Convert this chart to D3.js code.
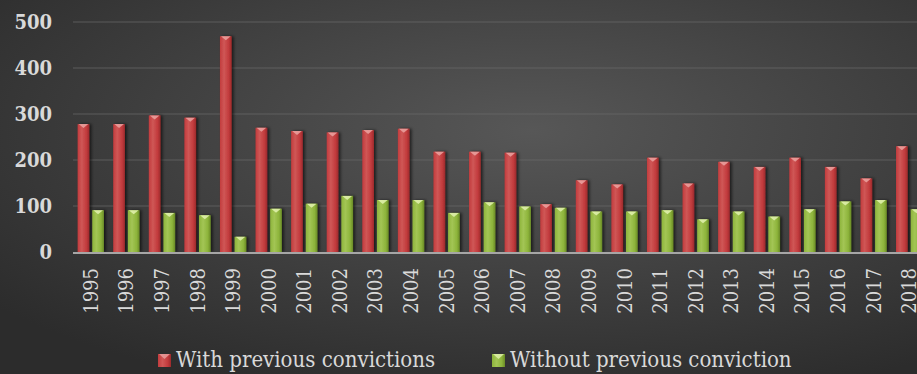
<!DOCTYPE html>
<html>
<head>
<meta charset="utf-8">
<script src="https://d3js.org/d3.v7.min.js"></script>
<style>
  body { margin: 0; background: #333; overflow: hidden; }
  svg { display: block; }
</style>
</head>
<body>
<svg id="chart"></svg>
<script>
// Data
const years = ["1995","1996","1997","1998","1999","2000","2001","2002","2003","2004","2005","2006",
               "2007","2008","2009","2010","2011","2012","2013","2014","2015","2016","2017","2018"];
const withPrevious = [278,278,297,292,469,270,263,260,265,268,218,218,216,104,156,147,205,149,196,185,205,185,160,230];
const withoutPrevious = [91,91,85,80,33,94,105,122,113,113,85,108,99,96,88,88,91,71,88,77,93,110,113,93];
const seriesNames = ["With previous convictions", "Without previous conviction"];
const yTicks = [0,100,200,300,400,500];

const W = 917, H = 374;
const margin = {top: 22, left: 73, bottom: 122};
const plotRight = 927;
const fontStack = "'DejaVu Serif Condensed', 'DejaVu Serif', serif";

const svg = d3.select("#chart").attr("width", W).attr("height", H);
const defs = svg.append("defs");

// Background
const bg = defs.append("radialGradient").attr("id", "bg")
    .attr("cx", "0.58").attr("cy", "0.35").attr("r", "0.75");
bg.append("stop").attr("offset", "0%").attr("stop-color", "#575757");
bg.append("stop").attr("offset", "100%").attr("stop-color", "#2c2c2c");
svg.append("rect").attr("width", W).attr("height", H).attr("fill", "url(#bg)");

// Bar gradients
const palette = [
  {id: "gRed", dark: "#9c2a2c", mid: "#c23b3d", light: "#cf5756", tip: "#eba3a1"},
  {id: "gGreen", dark: "#6a8a26", mid: "#8db43b", light: "#a3c555", tip: "#e3f2b0"}
];
palette.forEach(p => {
  const g = defs.append("linearGradient").attr("id", p.id)
      .attr("x1", "0").attr("x2", "1").attr("y1", "0").attr("y2", "0");
  g.append("stop").attr("offset", "0%").attr("stop-color", p.mid);
  g.append("stop").attr("offset", "35%").attr("stop-color", p.light);
  g.append("stop").attr("offset", "75%").attr("stop-color", p.mid);
  g.append("stop").attr("offset", "100%").attr("stop-color", p.dark);
});
const shadow = defs.append("filter").attr("id", "shadow")
    .attr("x", "-50%").attr("y", "-10%").attr("width", "200%").attr("height", "120%");
shadow.append("feDropShadow").attr("dx", 2).attr("dy", 0).attr("stdDeviation", 1.5)
    .attr("flood-color", "#000").attr("flood-opacity", 0.6);

// Scales
const y = d3.scaleLinear().domain([0, 500]).range([H - margin.bottom, margin.top]);
const x0 = d3.scaleBand().domain(years).range([margin.left, plotRight]).padding(0);
const x1 = d3.scaleBand().domain(seriesNames)
    .range([x0.bandwidth() * 0.13, x0.bandwidth() * 0.87]).paddingInner(0.2);

// Gridlines
svg.append("g")
  .selectAll("line")
  .data(yTicks.filter(d => d > 0))
  .join("line")
    .attr("x1", margin.left).attr("x2", W)
    .attr("y1", d => y(d)).attr("y2", d => y(d))
    .attr("stroke", "#6a6a6a").attr("stroke-width", 1.2).attr("opacity", 0.7);

// Y axis labels
const yAxis = svg.append("g")
    .attr("transform", `translate(${margin.left - 21},0)`)
    .call(d3.axisLeft(y).tickValues(yTicks).tickSize(0).tickPadding(0));
yAxis.select(".domain").remove();
yAxis.selectAll("text")
    .attr("fill", "#d9d9d9")
    .style("font-family", fontStack)
    .style("font-size", "20px")
    .style("font-weight", "bold");

// Bars
const rows = years.map((yr, i) => ({year: yr, values: [withPrevious[i], withoutPrevious[i]]}));
const groups = svg.append("g").selectAll("g")
  .data(rows)
  .join("g")
    .attr("transform", d => `translate(${x0(d.year)},0)`);

const bars = groups.selectAll("g")
  .data(d => d.values.map((v, k) => ({k, v})))
  .join("g");

bars.append("rect")
    .attr("x", d => x1(seriesNames[d.k]))
    .attr("width", x1.bandwidth())
    .attr("y", d => y(d.v))
    .attr("height", d => y(0) - y(d.v))
    .attr("fill", d => `url(#${palette[d.k].id})`)
    .attr("filter", "url(#shadow)");

// bevel tip at the top of each bar
bars.append("path")
    .attr("d", d => {
      const bx = x1(seriesNames[d.k]), bw = x1.bandwidth(), ty = y(d.v);
      return `M${bx + 1},${ty} L${bx + bw - 1},${ty} L${bx + bw / 2},${ty + 4} Z`;
    })
    .attr("fill", d => palette[d.k].tip)
    .attr("opacity", 0.85);

// Baseline
svg.append("line")
    .attr("x1", margin.left).attr("x2", W)
    .attr("y1", y(0) + 1).attr("y2", y(0) + 1)
    .attr("stroke", "#a6a6a6").attr("stroke-width", 2);

// X axis labels
const xAxis = svg.append("g")
    .attr("transform", `translate(0,${y(0) + 16})`)
    .call(d3.axisBottom(x0).tickSize(0).tickPadding(0));
xAxis.select(".domain").remove();
xAxis.selectAll("text")
    .attr("fill", "#d9d9d9")
    .attr("transform", "rotate(-90)")
    .attr("text-anchor", "end")
    .attr("dy", "0.35em")
    .attr("x", 0).attr("y", 0)
    .style("font-family", fontStack)
    .style("font-size", "20px");

// Legend
const legendPos = [158, 492];
const legend = svg.append("g").selectAll("g")
  .data(seriesNames)
  .join("g")
    .attr("transform", (d, i) => `translate(${legendPos[i]},354)`);
legend.append("rect")
    .attr("width", 13).attr("height", 13)
    .attr("fill", (d, i) => `url(#${palette[i].id})`);
legend.append("path")
    .attr("d", "M1,0 L12,0 L6.5,5 Z")
    .attr("fill", (d, i) => palette[i].tip).attr("opacity", 0.8);
legend.append("text")
    .attr("x", 18).attr("y", 13)
    .attr("fill", "#d9d9d9")
    .style("font-family", fontStack)
    .style("font-size", "22px")
    .text(d => d);
</script>
</body>
</html>
